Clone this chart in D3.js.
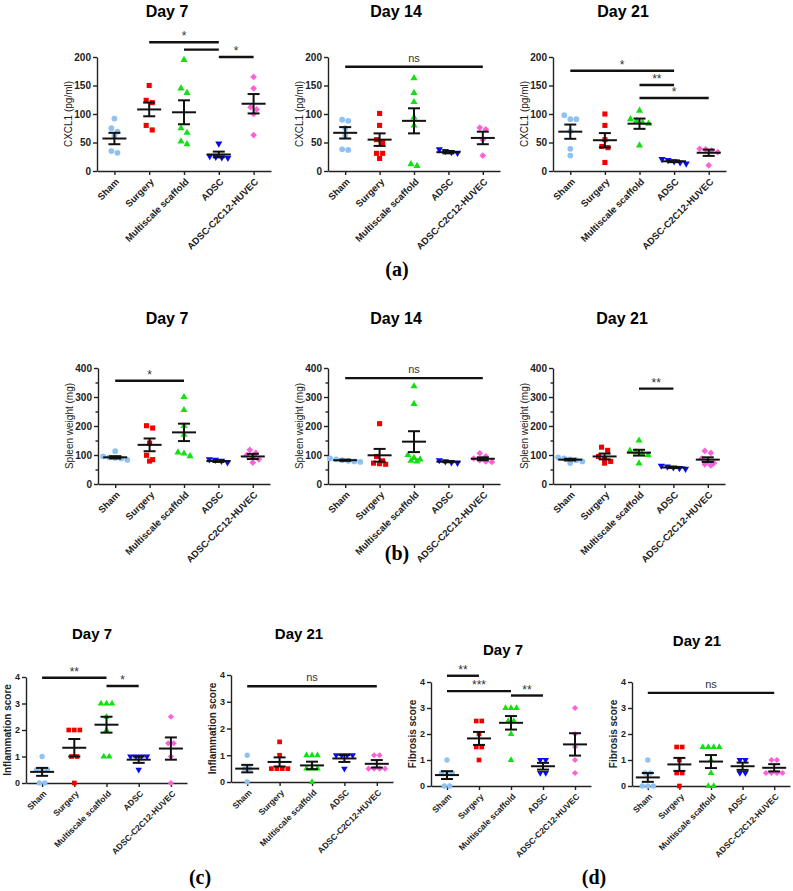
<!DOCTYPE html>
<html>
<head>
<meta charset="utf-8">
<script src="https://cdn.jsdelivr.net/npm/d3@7"></script>
<style>
  body { margin: 0; background: #fff; }
  text { font-family: "Liberation Sans", Arial, sans-serif; }
  .axis path, .axis line { stroke: #222; stroke-width: 1.4; }
</style>
</head>
<body>
<svg id="chart" width="793" height="891"></svg>
<script>
// groups and colours
const groups = ["Sham", "Surgery", "Multiscale scaffold", "ADSC", "ADSC-C2C12-HUVEC"];
const colors = ["#8fc1f2", "#f20000", "#12e012", "#0a0af0", "#ff5fd8"];

// (a) CXCL1 (pg/ml)
const cxclD7 = [[92, 75, 69, 62, 35, 32], [150, 124, 120, 80, 72], [195, 145, 137, 75, 67, 52, 47], [48, 26, 25, 24, 23], [165, 145, 112, 108, 100, 63]];
const cxclD7Mean = [57, 108, 103, 29, 118];
const cxclD7Sem = [10, 12, 21, 5, 17];
const cxclD7Sig = [[1, 3, 226, "*"], [2, 3, 213, ""], [3, 4, 200, "*"]];

const cxclD14 = [[90, 88, 75, 62, 38, 37], [101, 80, 55, 50, 31, 31, 22], [163, 137, 121, 94, 80, 12, 9], [38, 35, 33, 32], [76, 73, 55, 27]];
const cxclD14Mean = [67, 55, 88, 33, 58];
const cxclD14Sem = [10, 11, 22, 2, 11];
const cxclD14Sig = [[0, 4, 183, "ns"]];

const cxclD21 = [[98, 91, 91, 70, 39, 27], [100, 80, 55, 43, 41, 15], [106, 91, 88, 85, 83, 45], [21, 19, 17, 15, 13], [39, 38, 36, 33, 10]];
const cxclD21Mean = [69, 54, 83, 17, 32];
const cxclD21Sem = [12.5, 12.5, 9, 1.5, 5.5];
const cxclD21Sig = [[0, 3, 176, "*"], [2, 3, 151, "**"], [2, 4, 128, "*"]];

// (b) spleen weight (mg)
const spleenD7 = [[113, 95, 92, 90, 88, 83], [201, 193, 141, 99, 84, 79], [300, 255, 200, 170, 109, 105, 96], [85, 83, 80, 75], [118, 107, 100, 92, 85, 74]];
const spleenD7Mean = [92, 135, 178, 79, 95];
const spleenD7Sem = [4, 22, 30, 3, 9];
const spleenD7Sig = [[0, 2, 356, "*"]];

const spleenD14 = [[88, 85, 82, 80, 78, 76], [208, 95, 80, 72, 70, 68], [337, 276, 100, 90, 85, 80, 78], [82, 78, 75, 73], [106, 95, 88, 82, 78, 76]];
const spleenD14Mean = [82, 99, 146, 77, 87];
const spleenD14Sem = [2, 22, 36, 2, 5];
const spleenD14Sig = [[0, 4, 365, "ns"]];

const spleenD21 = [[92, 88, 85, 82, 78, 72], [127, 116, 95, 85, 78, 72], [150, 115, 110, 105, 100, 71], [63, 60, 57, 55, 52], [114, 107, 88, 78, 72, 68, 64]];
const spleenD21Mean = [84, 95, 108, 57, 84];
const spleenD21Sem = [3, 10, 10, 2, 8];
const spleenD21Sig = [[2, 3, 329, "**"]];

// (c) inflammation score
const inflamD7 = [[1, 0.5, 0.5, 0.5, 0, 0], [2, 2, 2, 1, 1, 0], [3, 3, 3, 2.5, 2, 1, 1], [1, 1, 1, 1, 0.5], [2.5, 1.5, 1.5, 1, 0]];
const inflamD7Mean = [0.42, 1.33, 2.2, 0.88, 1.3];
const inflamD7Sem = [0.15, 0.33, 0.3, 0.12, 0.42];
const inflamD7Sig = [[0, 2, 3.97, "**"], [2, 3, 3.66, "*"]];

const inflamD21 = [[1, 0.5, 0.5, 0], [1.5, 1, 0.5, 0.5, 0.5, 0.5], [1, 1, 1, 0.5, 0.5, 0.5, 0], [1, 1, 1, 1, 0.5], [1, 1, 0.5, 0.5, 0.5, 0.5]];
const inflamD21Mean = [0.5, 0.75, 0.62, 0.88, 0.68];
const inflamD21Sem = [0.14, 0.17, 0.14, 0.13, 0.14];
const inflamD21Sig = [[0, 4, 3.58, "ns"]];

// (d) fibrosis score
const fibD7 = [[1, 0.5, 0.5, 0.5, 0, 0], [2.5, 2.5, 2, 1.5, 1.5, 1], [3, 3, 3, 2.5, 2.5, 2, 1], [1, 1, 0.5, 0.5], [3, 2, 1.5, 1, 0.5]];
const fibD7Mean = [0.42, 1.83, 2.43, 0.76, 1.6];
const fibD7Sem = [0.15, 0.25, 0.26, 0.13, 0.43];
const fibD7Sig = [[0, 1, 4.24, "**"], [0, 2, 3.65, "***"], [2, 3, 3.48, "**"]];

const fibD21 = [[1, 0.5, 0.5, 0, 0, 0], [1.5, 1.5, 1, 0.5, 0.5, 0], [1.5, 1.5, 1.5, 1.5, 1, 0.5, 0, 0], [1, 1, 0.5, 0.5], [1, 1, 0.5, 0.5, 0.5, 0.5]];
const fibD21Mean = [0.33, 0.83, 0.94, 0.76, 0.7];
const fibD21Sem = [0.17, 0.25, 0.25, 0.14, 0.14];
const fibD21Sig = [[0, 4, 3.58, "ns"]];

const cxclTicks = [0, 50, 100, 150, 200];
const spleenTicks = [0, 100, 200, 300, 400];
const spleenMinor = [50, 150, 250, 350];
const scoreTicks = [0, 1, 2, 3, 4];

const svg = d3.select("#chart");

const big = { fs: 10, xfs: 9.5, labelFs: 10, labelOff: 25, sym: 26, gap: 5.5, titleFs: 16 };
const small = { fs: 9, xfs: 8.5, labelFs: 10, labelOff: 15, sym: 22, gap: 5, titleFs: 15 };

const panels = [
  { title: "Day 7", tx: 167, ty: 17, left: 97, top: 57, width: 174, height: 114, yMax: 200, ticks: cxclTicks, yLabel: "CXCL1 (pg/ml)", pts: cxclD7, mean: cxclD7Mean, sem: cxclD7Sem, sig: cxclD7Sig, st: big },
  { title: "Day 14", tx: 396, ty: 17, left: 328, top: 57, width: 172, height: 114, yMax: 200, ticks: cxclTicks, yLabel: "CXCL1 (pg/ml)", pts: cxclD14, mean: cxclD14Mean, sem: cxclD14Sem, sig: cxclD14Sig, st: big },
  { title: "Day 21", tx: 623, ty: 17, left: 553, top: 57, width: 173, height: 114, yMax: 200, ticks: cxclTicks, yLabel: "CXCL1 (pg/ml)", pts: cxclD21, mean: cxclD21Mean, sem: cxclD21Sem, sig: cxclD21Sig, st: big },
  { title: "Day 7", tx: 167, ty: 324, left: 98, top: 368, width: 172, height: 116, yMax: 400, ticks: spleenTicks, minor: spleenMinor, yLabel: "Spleen weight (mg)", pts: spleenD7, mean: spleenD7Mean, sem: spleenD7Sem, sig: spleenD7Sig, st: big },
  { title: "Day 14", tx: 396, ty: 324, left: 328, top: 368, width: 172, height: 116, yMax: 400, ticks: spleenTicks, minor: spleenMinor, yLabel: "Spleen weight (mg)", pts: spleenD14, mean: spleenD14Mean, sem: spleenD14Sem, sig: spleenD14Sig, st: big },
  { title: "Day 21", tx: 622, ty: 324, left: 553, top: 368, width: 172, height: 116, yMax: 400, ticks: spleenTicks, minor: spleenMinor, yLabel: "Spleen weight (mg)", pts: spleenD21, mean: spleenD21Mean, sem: spleenD21Sem, sig: spleenD21Sig, st: big },
  { title: "Day 7", tx: 92, ty: 639, left: 26, top: 677, width: 161, height: 106, yMax: 4, ticks: scoreTicks, yLabel: "Inflammation score", pts: inflamD7, mean: inflamD7Mean, sem: inflamD7Sem, sig: inflamD7Sig, st: small },
  { title: "Day 21", tx: 299, ty: 639, left: 231, top: 675, width: 162, height: 107, yMax: 4, ticks: scoreTicks, yLabel: "Inflammation score", pts: inflamD21, mean: inflamD21Mean, sem: inflamD21Sem, sig: inflamD21Sig, st: small },
  { title: "Day 7", tx: 503, ty: 655, left: 431, top: 682, width: 160, height: 104, yMax: 4, ticks: scoreTicks, yLabel: "Fibrosis score", pts: fibD7, mean: fibD7Mean, sem: fibD7Sem, sig: fibD7Sig, st: small },
  { title: "Day 21", tx: 697, ty: 646, left: 632, top: 682, width: 158, height: 104, yMax: 4, ticks: scoreTicks, yLabel: "Fibrosis score", pts: fibD21, mean: fibD21Mean, sem: fibD21Sem, sig: fibD21Sig, st: small }
];

const panelLabels = [["(a)", 397, 276], ["(b)", 397, 560], ["(c)", 200, 884], ["(d)", 594, 884]];

// spread points that sit on the same level, like a scatter dot plot
function swarm(vals, y, cx, gap) {
  const s = vals.map(v => ({ v, py: y(v) })).sort((a, b) => a.py - b.py);
  const rows = [];
  s.forEach(d => {
    const last = rows[rows.length - 1];
    if (last && d.py - last[0].py < gap * 0.9) last.push(d);
    else rows.push([d]);
  });
  rows.forEach(r => r.forEach((d, k) => { d.px = cx + (k - (r.length - 1) / 2) * gap * 1.1; }));
  return s;
}

const shapes = [d3.symbolCircle, d3.symbolSquare, d3.symbolTriangle, d3.symbolTriangle, d3.symbolDiamond2];
const shapeScale = [1, 1, 0.85, 0.85, 1.1];

function drawPanel(p) {
  const st = p.st;
  svg.append("text")
    .attr("x", p.tx).attr("y", p.ty)
    .attr("text-anchor", "middle")
    .style("font-weight", "bold")
    .style("font-size", st.titleFs + "px")
    .text(p.title);

  const g = svg.append("g").attr("transform", `translate(${p.left},${p.top})`);
  const x = d3.scalePoint().domain(groups).range([0, p.width]).padding(0.5);
  const y = d3.scaleLinear().domain([0, p.yMax]).range([p.height, 0]);

  const ya = g.append("g").attr("class", "axis")
    .call(d3.axisLeft(y).tickValues(p.ticks).tickSize(4).tickSizeOuter(0).tickPadding(2).tickFormat(d3.format("d")));
  ya.selectAll("text").style("font-size", st.fs + "px").style("font-weight", "bold").attr("fill", "#222");
  if (p.minor) {
    g.append("g").attr("class", "axis")
      .call(d3.axisLeft(y).tickValues(p.minor).tickSize(2.5).tickFormat(""))
      .select(".domain").remove();
  }

  g.append("g").attr("class", "axis")
    .attr("transform", `translate(0,${p.height})`)
    .call(d3.axisBottom(x).tickSize(4).tickSizeOuter(0).tickFormat(""));
  groups.forEach(name => {
    g.append("text")
      .attr("transform", `translate(${x(name) + 3},${p.height + 9}) rotate(-45)`)
      .attr("text-anchor", "end")
      .attr("dy", "0.35em")
      .style("font-size", st.xfs + "px")
      .style("font-weight", "bold")
      .attr("fill", "#222")
      .text(name);
  });

  g.append("text")
    .attr("transform", `translate(${-st.labelOff},${p.height / 2}) rotate(-90)`)
    .attr("text-anchor", "middle")
    .style("font-size", st.labelFs + "px")
    .style("font-weight", p.yMax === 4 ? "bold" : "normal")
    .attr("fill", "#222")
    .text(p.yLabel);

  // points
  p.pts.forEach((vals, i) => {
    const cx = x(groups[i]);
    const pos = swarm(vals, y, cx, st.gap);
    g.selectAll(null).data(pos).enter().append("path")
      .attr("d", d3.symbol(shapes[i], st.sym * shapeScale[i]))
      .attr("transform", d => `translate(${d.px},${d.py})` + (i === 3 ? " rotate(180)" : ""))
      .attr("fill", colors[i]);
  });

  // mean and SEM
  const mw = 12, cw = 6;
  groups.forEach((name, i) => {
    const cx = x(name);
    const m = p.mean[i], e = p.sem[i];
    const lines = [
      [cx - mw, y(m), cx + mw, y(m)],
      [cx, y(m - e), cx, y(m + e)],
      [cx - cw, y(m - e), cx + cw, y(m - e)],
      [cx - cw, y(m + e), cx + cw, y(m + e)]
    ];
    g.selectAll(null).data(lines).enter().append("line")
      .attr("x1", d => d[0]).attr("y1", d => d[1])
      .attr("x2", d => d[2]).attr("y2", d => d[3])
      .attr("stroke", "#111").attr("stroke-width", 2);
  });

  // significance bars
  p.sig.forEach(([a, b, v, lab]) => {
    g.append("line")
      .attr("x1", x(groups[a])).attr("x2", x(groups[b]))
      .attr("y1", y(v)).attr("y2", y(v))
      .attr("stroke", "#111").attr("stroke-width", 2.4);
    if (lab) {
      g.append("text")
        .attr("x", (x(groups[a]) + x(groups[b])) / 2)
        .attr("y", y(v) - (lab === "ns" ? 5 : 2))
        .attr("text-anchor", "middle")
        .style("font-size", lab === "ns" ? "11px" : "12px")
        .attr("fill", "#333")
        .text(lab);
    }
  });
}

panels.forEach(drawPanel);

svg.selectAll(".plabel").data(panelLabels).enter().append("text")
  .attr("class", "plabel")
  .attr("x", d => d[1]).attr("y", d => d[2])
  .attr("text-anchor", "middle")
  .style("font-family", "'Liberation Serif', 'Times New Roman', serif")
  .style("font-weight", "bold")
  .style("font-size", "20px")
  .text(d => d[0]);
</script>
</body>
</html>
